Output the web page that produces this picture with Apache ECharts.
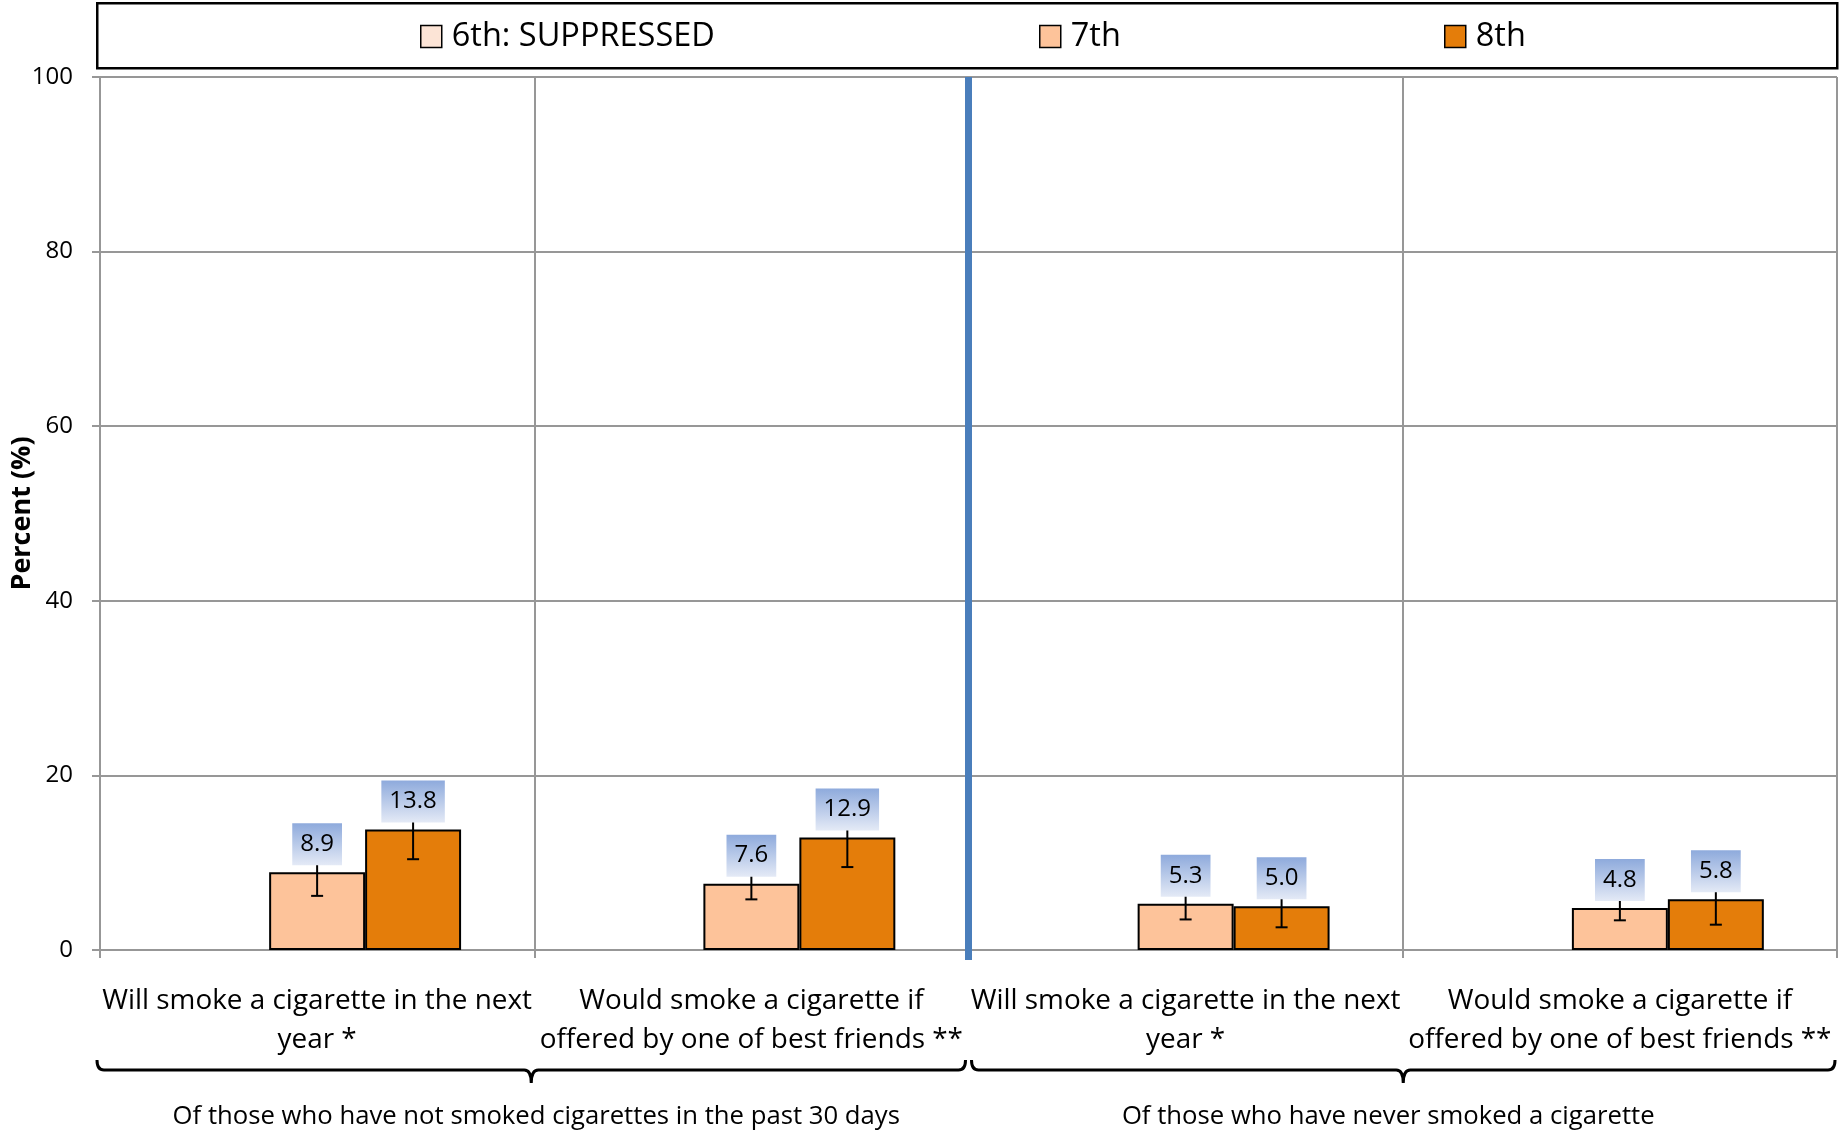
<!DOCTYPE html>
<html><head><meta charset="utf-8">
<script src="https://cdn.jsdelivr.net/npm/echarts@6/dist/echarts.min.js"></script>
<style>html,body{margin:0;padding:0;background:#fff}#c{width:1839px;height:1134px}</style>
</head><body><div id="c"></div>
<script>
// ---- data ----
const categories = [
  'Will smoke a cigarette in the next\nyear *',
  'Would smoke a cigarette if\noffered by one of best friends **',
  'Will smoke a cigarette in the next\nyear *',
  'Would smoke a cigarette if\noffered by one of best friends **'
];
const seriesNames = ['6th: SUPPRESSED', '7th', '8th'];
const values6 = [null, null, null, null];
const values7 = [8.9, 7.6, 5.3, 4.8];
const values8 = [13.8, 12.9, 5.0, 5.8];
const err7 = [2.7, 1.8, 1.8, 1.4];
const err8 = [3.4, 3.4, 2.4, 2.9];
const groupLabels = ['Of those who have not smoked cigarettes in the past 30 days', 'Of those who have never smoked a cigarette'];
const groupRanges = [[0, 1], [2, 3]];
const yMin = 0, yMax = 100, yStep = 20;

// ---- styles ----
const FONT = 'Open Sans';
const colors = ['#FCE4D6', '#FDC39A', '#E47D0A'];
const GRID = '#979797';
const GAP = 0.337;
const legendLeft = [420, 1039, 1444];
const groupTextShift = [5, -15];

const chart = echarts.init(document.getElementById('c'), null, {renderer: 'canvas'});

const labelBg = new echarts.graphic.LinearGradient(0, 0, 0, 1, [
  {offset: 0, color: '#8EAADC'}, {offset: 1, color: '#E4EAF6'}
]);

function barSeries(name, data, color) {
  return {
    name, type: 'bar', data, barGap: '0%', barCategoryGap: (GAP * 100) + '%', z: 2,
    itemStyle: {color, borderColor: '#000', borderWidth: 2}
  };
}

// error bars + value labels (label drawn after the error line so it covers its top)
function errSeries(vals, errs, pos) {
  return {
    type: 'custom', z: 3, silent: true,
    data: vals.map((v, i) => [i, v, errs[i]]),
    renderItem: (params, api) => {
      const band = api.size([1, 0])[0];
      const bw = band * (1 - GAP) / 3;
      const v = api.value(1), e = api.value(2);
      const c = api.coord([api.value(0), v]);
      const lo = api.coord([api.value(0), v - e]);
      const hi = api.coord([api.value(0), v + e]);
      const x = c[0] + (pos - 1) * bw;
      const st = {stroke: '#000', lineWidth: 2};
      return {type: 'group', children: [
        {type: 'line', shape: {x1: x, y1: hi[1], x2: x, y2: lo[1]}, style: st},
        {type: 'line', shape: {x1: x - 6, y1: lo[1], x2: x + 6, y2: lo[1]}, style: st},
        {type: 'line', shape: {x1: x - 6, y1: hi[1], x2: x + 6, y2: hi[1]}, style: st},
        {type: 'text', x: x, y: c[1] - 7, z2: 10, style: {
          text: v.toFixed(1), fill: '#000', font: `24px "${FONT}"`, lineHeight: 26,
          align: 'center', verticalAlign: 'bottom', padding: [8, 8, 8, 8], backgroundColor: labelBg}}
      ]};
    }
  };
}

const sepSeries = {
  type: 'custom', z: 3, silent: true,
  data: [[groupRanges[0][1]]],
  renderItem: (params, api) => {
    const band = api.size([1, 0])[0];
    const top = api.coord([api.value(0), yMax]);
    const bot = api.coord([api.value(0), yMin]);
    const x = top[0] + band / 2;
    return {type: 'line', shape: {x1: x, y1: top[1], x2: x, y2: bot[1] + 10},
      style: {stroke: '#4A7EBB', lineWidth: 7}};
  }
};

const bracketSeries = {
  type: 'custom', z: 3, silent: true,
  data: groupRanges.map(r => [r[0], r[1]]),
  renderItem: (params, api) => {
    const band = api.size([1, 0])[0];
    const a = api.coord([api.value(0), yMin]);
    const b = api.coord([api.value(1), yMin]);
    const x0 = a[0] - band / 2 + (params.dataIndex === 0 ? -3 : 3);
    const x1 = b[0] + band / 2 - (params.dataIndex === 0 ? 3 : 2);
    const xm = (x0 + x1) / 2;
    const y0 = a[1];
    const yT = y0 + 110, yL = y0 + 120, yB = y0 + 133, r = 7;
    const path = `M${x0},${yT} Q${x0},${yL} ${x0 + r},${yL} L${xm - r},${yL} Q${xm},${yL} ${xm},${yB} Q${xm},${yL} ${xm + r},${yL} L${x1 - r},${yL} Q${x1},${yL} ${x1},${yT}`;
    return {type: 'group', children: [
      {type: 'path', shape: {pathData: path}, style: {stroke: '#000', lineWidth: 3, fill: null}},
      {type: 'text', x: xm + groupTextShift[params.dataIndex], y: y0 + 167, style: {text: groupLabels[params.dataIndex], fill: '#000',
        font: `25.7px "${FONT}"`, align: 'center', verticalAlign: 'middle'}}
    ]};
  }
};

chart.setOption({
  animation: false,
  backgroundColor: '#fff',
  graphic: [{type: 'rect', left: 96, top: 2, z: 0,
    shape: {width: 1740, height: 65}, style: {fill: '#fff', stroke: '#000', lineWidth: 2.5}}],
  legend: seriesNames.map((n, i) => ({
    data: [n], left: legendLeft[i], top: 20, padding: 0, z: 5,
    icon: 'rect', itemWidth: 21, itemHeight: 22,
    itemStyle: {borderColor: '#000', borderWidth: 1.5},
    textStyle: {fontFamily: FONT, fontSize: 32.5, color: '#000', padding: [0, 0, 0, 5]}
  })),
  grid: {left: 100, right: 2, top: 77, bottom: 184, containLabel: false, outerBoundsMode: 'none'},
  xAxis: {
    type: 'category', data: categories, boundaryGap: true,
    axisLine: {show: true, lineStyle: {color: GRID, width: 2}},
    axisTick: {show: true, length: 8, interval: 0, lineStyle: {color: GRID, width: 2}},
    splitLine: {show: true, interval: 0, lineStyle: {color: GRID, width: 2}},
    axisLabel: {interval: 0, margin: 32, color: '#000', fontFamily: FONT, fontSize: 27.9, lineHeight: 39}
  },
  yAxis: {
    type: 'value', min: yMin, max: yMax, interval: yStep,
    name: 'Percent (%)', nameLocation: 'middle', nameGap: 64, nameMoveOverlap: false,
    nameTextStyle: {fontFamily: FONT, fontWeight: 'bold', fontSize: 27, color: '#000'},
    axisLine: {show: true, lineStyle: {color: GRID, width: 2}},
    axisTick: {show: true, length: 8, lineStyle: {color: GRID, width: 2}},
    splitLine: {show: true, lineStyle: {color: GRID, width: 2}},
    axisLabel: {margin: 27, color: '#000', fontFamily: FONT, fontSize: 24}
  },
  series: [
    barSeries(seriesNames[0], values6, colors[0]),
    barSeries(seriesNames[1], values7, colors[1]),
    barSeries(seriesNames[2], values8, colors[2]),
    errSeries(values7, err7, 1),
    errSeries(values8, err8, 2),
    sepSeries,
    bracketSeries
  ]
});
</script></body></html>
